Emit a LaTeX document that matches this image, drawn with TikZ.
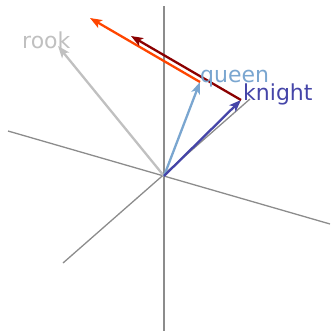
\documentclass[tikz,border=0pt]{standalone}
\usepackage{fontspec}
\setmainfont{DejaVu Sans}
\definecolor{axisgray}{HTML}{8C8C8C}
\definecolor{rookgray}{HTML}{C0C0C0}
\definecolor{queenblue}{HTML}{7AA6D0}
\definecolor{knightblue}{HTML}{4545A8}
\definecolor{shiftorange}{HTML}{FF4500}
\definecolor{shiftred}{HTML}{8B0000}
\usetikzlibrary{arrows.meta}
\tikzset{
	axisline/.style={
			draw=axisgray,
			line width=1.3pt
		},
	vecline/.style={
			line width=2.3pt,
			-{Stealth[length=12pt,width=9pt,inset=3pt]}
		},
	wordlabel/.style={
			inner sep=0pt,
			anchor=base west,
			font=\fontsize{22}{22}\selectfont
		}
}

\begin{document}
\begin{tikzpicture}[x=1pt, y=-1pt]
\useasboundingbox (0,0) rectangle (330,332);

\coordinate (o) at (164,176);
\coordinate (zt) at (164,6);
\coordinate (zb) at (164,331);
\coordinate (xl) at (8,131);
\coordinate (xr) at (330,224);
\coordinate (yl) at (63,263);
\coordinate (yr) at (250,99);

\coordinate (rook) at (58,46);
\coordinate (queen) at (200,82);
\coordinate (knight) at (241,100);
\coordinate (queenend) at (90,18);
\coordinate (knightend) at (131,36);

% axes
\draw[axisline] (zt) -- (zb);
\draw[axisline] (xl) -- (xr);
\draw[axisline] (yl) -- (yr);

% word vectors
\draw[vecline, rookgray] (o) -- (rook);
\draw[vecline, queenblue] (o) -- (queen);
\draw[vecline, knightblue] (o) -- (knight);

\draw[vecline, shiftorange] (queen) -- (queenend);
\draw[vecline, shiftred] (knight) -- (knightend);

\node[wordlabel, text=rookgray] (rooklabel) at (22,48) {rook};
\node[wordlabel, text=queenblue] (queenlabel) at (200,82) {queen};
\node[wordlabel, text=knightblue] (knightlabel) at (243,100) {knight};
\end{tikzpicture}
\end{document}
